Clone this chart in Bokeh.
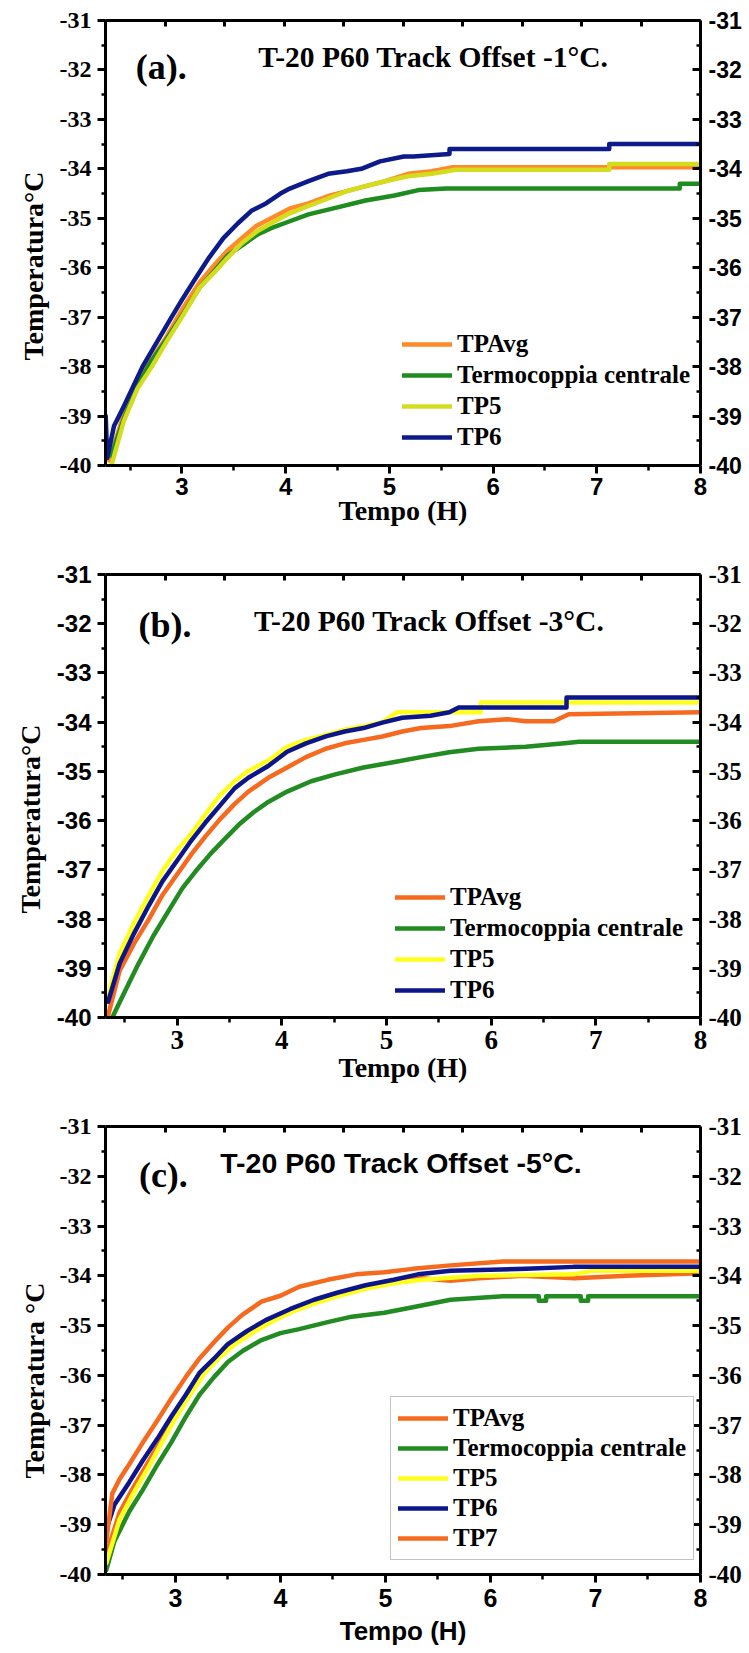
from bokeh.plotting import figure
from bokeh.models import (Range1d, LinearAxis, FixedTicker, Legend, LegendItem, Label, Title,
                          CustomLabelingPolicy)
from bokeh.layouts import column
from bokeh.embed import file_html
from bokeh.resources import INLINE

SERIF = "Liberation Serif"
SANS = "Liberation Sans"

# ---------------- ticks ----------------
Y_TICKS = [-40, -39, -38, -37, -36, -35, -34, -33, -32, -31]
Y_MINOR = [-39.5, -38.5, -37.5, -36.5, -35.5, -34.5, -33.5, -32.5, -31.5]
X_TICKS = [3, 4, 5, 6, 7, 8]
X_MINOR = [2.5, 3.5, 4.5, 5.5, 6.5, 7.5]
TOP_TICKS = [1, 2, 3, 4, 5, 6, 7, 8, 9]   # top axis: ten equal divisions

# ---------------- panel (a): offset -1 C ----------------
a_x_avg = [2.30, 2.44, 2.57, 2.71, 2.85, 3.0, 3.17, 3.31, 3.44, 3.58, 3.72, 3.86, 4.04, 4.22, 4.41, 4.59, 4.77, 4.96, 5.18, 5.41, 5.6, 8.0]
a_y_avg = [-39.9, -38.95, -38.3, -37.85, -37.4, -36.85, -36.3, -35.95, -35.65, -35.4, -35.15, -35.0, -34.8, -34.7, -34.55, -34.45, -34.35, -34.25, -34.1, -34.05, -33.97, -33.97]
a_x_cen = [2.32, 2.44, 2.57, 2.71, 2.85, 3.0, 3.17, 3.31, 3.44, 3.58, 3.72, 3.86, 4.04, 4.22, 4.5, 4.77, 5.05, 5.28, 5.55, 7.8, 7.8, 8.0]
a_y_cen = [-39.8, -39.05, -38.4, -37.87, -37.45, -36.97, -36.4, -36.07, -35.75, -35.55, -35.34, -35.2, -35.06, -34.92, -34.78, -34.64, -34.54, -34.43, -34.4, -34.4, -34.3, -34.3]
a_x_tp5 = [2.32, 2.44, 2.57, 2.71, 2.85, 3.0, 3.17, 3.31, 3.44, 3.58, 3.72, 3.86, 4.04, 4.22, 4.41, 4.59, 4.77, 4.96, 5.18, 5.41, 5.64, 7.12, 7.12, 8.0]
a_y_tp5 = [-40.0, -39.1, -38.45, -38.0, -37.5, -37.0, -36.4, -36.1, -35.8, -35.5, -35.27, -35.1, -34.9, -34.75, -34.6, -34.45, -34.35, -34.25, -34.15, -34.1, -34.02, -34.02, -33.9, -33.9]
a_x_tp6 = [2.265, 2.28, 2.345, 2.44, 2.53, 2.62, 2.76, 2.9, 3.0, 3.12, 3.26, 3.4, 3.54, 3.67, 3.81, 3.95, 4.04, 4.22, 4.41, 4.59, 4.73, 4.91, 5.14, 5.23, 5.58, 5.58, 7.12, 7.12, 8.0]
a_y_tp6 = [-39.0, -39.85, -39.2, -38.8, -38.4, -38.0, -37.5, -37.0, -36.65, -36.25, -35.8, -35.4, -35.1, -34.85, -34.7, -34.5, -34.4, -34.25, -34.1, -34.05, -34.0, -33.85, -33.75, -33.75, -33.7, -33.6, -33.6, -33.5, -33.5]

# ---------------- panel (b): offset -3 C ----------------
b_x_avg = [2.34, 2.45, 2.59, 2.73, 2.86, 3.0, 3.14, 3.27, 3.41, 3.55, 3.68, 3.87, 4.05, 4.23, 4.42, 4.6, 4.78, 4.96, 5.15, 5.33, 5.6, 5.88, 6.15, 6.33, 6.6, 6.74, 8.0]
b_y_avg = [-39.96, -39.05, -38.49, -38.0, -37.51, -37.09, -36.67, -36.32, -35.97, -35.66, -35.41, -35.13, -34.92, -34.71, -34.54, -34.43, -34.36, -34.29, -34.19, -34.12, -34.08, -33.98, -33.94, -33.98, -33.98, -33.84, -33.8]
b_x_cen = [2.38, 2.5, 2.63, 2.77, 2.91, 3.05, 3.18, 3.32, 3.46, 3.59, 3.73, 3.87, 4.05, 4.28, 4.51, 4.78, 5.05, 5.33, 5.6, 5.88, 6.33, 6.7, 6.84, 8.0]
b_y_cen = [-40.0, -39.47, -38.91, -38.35, -37.86, -37.37, -37.02, -36.67, -36.36, -36.08, -35.83, -35.62, -35.41, -35.2, -35.06, -34.92, -34.82, -34.71, -34.61, -34.54, -34.5, -34.43, -34.4, -34.4]
b_x_tp5 = [2.34, 2.45, 2.59, 2.73, 2.86, 3.0, 3.14, 3.27, 3.41, 3.55, 3.68, 3.87, 4.05, 4.23, 4.42, 4.6, 4.78, 4.96, 5.1, 5.9, 5.9, 8.0]
b_y_tp5 = [-39.54, -38.7, -38.07, -37.51, -37.02, -36.6, -36.25, -35.87, -35.48, -35.2, -34.99, -34.78, -34.5, -34.36, -34.26, -34.15, -34.08, -34.0, -33.8, -33.8, -33.6, -33.6]
b_x_tp6 = [2.34, 2.45, 2.59, 2.73, 2.86, 3.0, 3.14, 3.27, 3.41, 3.55, 3.68, 3.87, 4.05, 4.23, 4.42, 4.6, 4.78, 4.96, 5.15, 5.42, 5.6, 5.69, 6.72, 6.72, 8.0]
b_y_tp6 = [-39.68, -38.9, -38.28, -37.72, -37.23, -36.81, -36.39, -36.04, -35.69, -35.34, -35.13, -34.89, -34.6, -34.43, -34.29, -34.19, -34.12, -34.01, -33.91, -33.87, -33.8, -33.7, -33.7, -33.5, -33.5]

# ---------------- panel (c): offset -5 C ----------------
c_x_avg = [2.342, 2.47, 2.6, 2.74, 2.87, 3.01, 3.14, 3.28, 3.41, 3.55, 3.73, 3.91, 4.09, 4.32, 4.54, 4.81, 5.08, 5.35, 5.62, 5.89, 6.3, 6.8, 7.3, 8.0]
c_y_avg = [-39.6, -38.75, -38.25, -37.75, -37.28, -36.8, -36.35, -35.92, -35.62, -35.35, -35.1, -34.9, -34.7, -34.52, -34.38, -34.22, -34.1, -34.05, -34.1, -34.05, -34.0, -34.05, -34.0, -33.95]
c_x_cen = [2.342, 2.42, 2.56, 2.69, 2.83, 2.96, 3.1, 3.23, 3.37, 3.5, 3.64, 3.82, 4.0, 4.18, 4.45, 4.68, 4.99, 5.26, 5.62, 6.12, 6.46, 6.46, 6.53, 6.53, 6.86, 6.86, 6.93, 6.93, 8.0]
c_y_cen = [-39.91, -39.33, -38.74, -38.3, -37.79, -37.35, -36.83, -36.39, -36.03, -35.73, -35.51, -35.29, -35.15, -35.07, -34.93, -34.82, -34.74, -34.63, -34.48, -34.41, -34.41, -34.5, -34.5, -34.41, -34.41, -34.5, -34.5, -34.41, -34.41]
c_x_tp5 = [2.342, 2.47, 2.6, 2.74, 2.87, 3.01, 3.14, 3.28, 3.41, 3.55, 3.73, 3.91, 4.09, 4.32, 4.54, 4.81, 5.08, 5.35, 5.62, 5.89, 6.79, 6.97, 8.0]
c_y_tp5 = [-39.77, -38.89, -38.37, -37.86, -37.35, -36.83, -36.39, -35.95, -35.66, -35.4, -35.15, -34.93, -34.74, -34.56, -34.41, -34.26, -34.15, -34.08, -34.04, -34.0, -33.97, -33.9, -33.9]
c_x_tp6 = [2.342, 2.42, 2.56, 2.69, 2.83, 2.96, 3.1, 3.23, 3.37, 3.5, 3.68, 3.86, 4.09, 4.32, 4.54, 4.81, 5.08, 5.31, 5.62, 6.34, 6.79, 8.0]
c_y_tp6 = [-39.1, -38.6, -38.15, -37.71, -37.27, -36.83, -36.39, -35.95, -35.66, -35.37, -35.11, -34.89, -34.67, -34.48, -34.34, -34.19, -34.08, -33.97, -33.9, -33.86, -33.82, -33.82]
c_x_tp7 = [2.342, 2.40, 2.47, 2.56, 2.69, 2.83, 2.96, 3.1, 3.23, 3.37, 3.5, 3.64, 3.82, 4.0, 4.18, 4.45, 4.72, 4.99, 5.26, 5.62, 6.12, 8.0]
c_y_tp7 = [-39.33, -38.37, -38.08, -37.79, -37.35, -36.9, -36.47, -36.03, -35.66, -35.33, -35.04, -34.78, -34.52, -34.4, -34.22, -34.08, -33.97, -33.93, -33.86, -33.79, -33.71, -33.71]

LEGEND_NAMES = ["TPAvg", "Termocoppia centrale", "TP5", "TP6", "TP7"]
Y_LABELS = {t: str(t) for t in Y_TICKS}
X_LABELS = {t: str(t) for t in X_TICKS}


def build(cfg):
    p = figure(width=749, height=cfg["height"],
               x_range=Range1d(cfg["xmin"], 8), y_range=Range1d(-40, -31),
               output_backend="svg", toolbar_location=None,
               min_border_left=cfg["bl"], min_border_right=cfg["br"],
               min_border_top=cfg["bt"], min_border_bottom=cfg["bb"])
    p.xgrid.visible = False
    p.ygrid.visible = False
    p.outline_line_color = None
    p.extra_x_ranges = {"top": Range1d(0, 10)}

    def common(ax):
        ax.axis_line_width = 3
        ax.major_tick_line_width = 3
        ax.minor_tick_line_width = 2.5
        ax.axis_line_color = "black"
        ax.major_tick_line_color = "black"
        ax.minor_tick_line_color = "black"
        ax.major_label_text_color = "black"
        ax.major_label_text_font_style = "bold"

    # left axis
    la = p.yaxis[0]
    common(la)
    la.ticker = FixedTicker(ticks=Y_TICKS, minor_ticks=Y_MINOR)
    la.major_label_overrides = Y_LABELS
    la.major_tick_out = 8
    la.major_tick_in = 0
    la.minor_tick_out = 4
    la.minor_tick_in = 0
    la.major_label_text_font = cfg["lfont"]
    la.major_label_text_font_size = cfg["lsize"]
    la.major_label_standoff = 6

    # y-axis title, placed beside the left axis with its lower end at a given distance
    yoff, ystand, ytext = cfg["ylabel"]
    p.add_layout(Title(text=ytext, align="left", offset=yoff, standoff=ystand,
                       vertical_align="bottom", text_font=SERIF, text_font_size="28px",
                       text_font_style="bold", text_color="black"), "left")

    # bottom axis
    ba = p.xaxis[0]
    common(ba)
    ba.ticker = FixedTicker(ticks=X_TICKS, minor_ticks=X_MINOR)
    ba.major_label_overrides = X_LABELS
    ba.major_tick_out = 8
    ba.major_tick_in = 0
    ba.minor_tick_out = 5
    ba.minor_tick_in = 0
    ba.major_label_text_font = cfg["xfont"]
    ba.major_label_text_font_size = cfg["xsize"]
    ba.major_label_standoff = cfg["xstand"]
    ba.axis_label = "Tempo (H)"
    ba.axis_label_text_font = cfg["xlfont"]
    ba.axis_label_text_font_size = cfg["xlsize"]
    ba.axis_label_text_font_style = "bold"
    ba.axis_label_text_color = "black"
    ba.axis_label_standoff = cfg["xlstand"]

    # right axis
    ra = LinearAxis(ticker=FixedTicker(ticks=Y_TICKS, minor_ticks=Y_MINOR))
    common(ra)
    ra.major_label_overrides = Y_LABELS
    ra.major_tick_out = 0
    ra.major_tick_in = 8
    ra.minor_tick_out = 0
    ra.minor_tick_in = 4
    ra.major_label_text_font = cfg["rfont"]
    ra.major_label_text_font_size = cfg["rsize"]
    ra.major_label_standoff = 8
    p.add_layout(ra, "right")

    # top axis (ticks only, labels suppressed by policy)
    ta = LinearAxis(x_range_name="top", ticker=FixedTicker(ticks=TOP_TICKS, minor_ticks=[]))
    common(ta)
    ta.major_tick_out = 0
    ta.major_tick_in = 6
    ta.minor_tick_out = 0
    ta.minor_tick_in = 0
    ta.major_label_text_font_size = "8px"
    ta.major_label_standoff = 0
    ta.major_label_policy = CustomLabelingPolicy(code="""
        for (const i of indices)
            indices.unset(i)
    """)
    p.add_layout(ta, "above")

    # series
    items = []
    for name, xs, ys, color in cfg["series"]:
        r = p.line(xs, ys, line_color=color, line_width=4.5, line_join="round", line_cap="round")
        items.append((name, r))
    order = {n: i for i, n in enumerate(LEGEND_NAMES)}
    items.sort(key=lambda t: order[t[0]])
    leg = Legend(items=[LegendItem(label=n, renderers=[r]) for n, r in items],
                 location=cfg["legloc"], padding=cfg["legpad"], margin=0, spacing=cfg["legspace"],
                 glyph_width=50, glyph_height=26, label_height=26, label_standoff=5,
                 label_text_font=SERIF, label_text_font_size="25px", label_text_font_style="bold",
                 label_text_color="black",
                 border_line_color=cfg["legborder"], border_line_width=1.5,
                 background_fill_alpha=0.0 if cfg["legborder"] is None else 1.0)
    p.add_layout(leg, "center")

    # title and tag
    tx, ty, ttext, tfont, tsize = cfg["title"]
    p.add_layout(Label(x=tx, y=ty, text=ttext, text_font=tfont, text_font_size=tsize,
                       text_font_style="bold", text_align="center", text_baseline="middle",
                       text_color="black"))
    gx, gy, gtext = cfg["tag"]
    p.add_layout(Label(x=gx, y=gy, text=gtext, text_font=SERIF, text_font_size="36px",
                       text_font_style="bold", text_align="left", text_baseline="middle",
                       text_color="black"))
    return p


pa = build(dict(
    height=545, xmin=2.263, bl=102, br=49, bt=20, bb=80,
    lfont=SERIF, lsize="24px", rfont=SANS, rsize="23px", xfont=SANS, xsize="24px", xstand=4,
    xlfont=SERIF, xlsize="28px", xlstand=-3,
    ylabel=(105, 16, "Temperatura°C"),
    series=[("TPAvg", a_x_avg, a_y_avg, "#FF8A2A"),
            ("Termocoppia centrale", a_x_cen, a_y_cen, "#1E8C1E"),
            ("TP5", a_x_tp5, a_y_tp5, "#D4DC1E"),
            ("TP6", a_x_tp6, a_y_tp6, "#0C1A8A")],
    legloc=(297, 14), legpad=0, legspace=3, legborder=None,
    title=(5.46, -31.74, "T-20 P60 Track Offset  -1°C.", SERIF, "29.5px"),
    tag=(2.555, -31.95, "(a)."),
))

pb = build(dict(
    height=545, xmin=2.315, bl=105, br=49, bt=29, bb=73,
    lfont=SANS, lsize="24px", rfont=SERIF, rsize="25px", xfont=SERIF, xsize="27px", xstand=5,
    xlfont=SERIF, xlsize="28px", xlstand=0,
    ylabel=(104, 16, "Temperatura°C"),
    series=[("TPAvg", b_x_avg, b_y_avg, "#F56A1E"),
            ("Termocoppia centrale", b_x_cen, b_y_cen, "#228B22"),
            ("TP5", b_x_tp5, b_y_tp5, "#FFFF1E"),
            ("TP6", b_x_tp6, b_y_tp6, "#0C168A")],
    legloc=(290, 13), legpad=0, legspace=3, legborder=None,
    title=(5.443, -31.95, "T-20 P60 Track Offset  -3°C.", SERIF, "29.5px"),
    tag=(2.63, -32.03, "(b)."),
))

pc = build(dict(
    height=563, xmin=2.335, bl=101, br=48, bt=36, bb=79,
    lfont=SERIF, lsize="24px", rfont=SERIF, rsize="25px", xfont=SANS, xsize="25px", xstand=6,
    xlfont=SANS, xlsize="26px", xlstand=6,
    ylabel=(96, 13, "Temperatura °C"),
    series=[("TPAvg", c_x_avg, c_y_avg, "#F56A1E"),
            ("Termocoppia centrale", c_x_cen, c_y_cen, "#228B22"),
            ("TP5", c_x_tp5, c_y_tp5, "#FFFF1E"),
            ("TP6", c_x_tp6, c_y_tp6, "#0C168A"),
            ("TP7", c_x_tp7, c_y_tp7, "#F56A1E")],
    legloc=(285, 14), legpad=7, legspace=2, legborder="#888888",
    title=(5.148, -31.73, "T-20 P60 Track Offset -5°C.", SANS, "28.5px"),
    tag=(2.653, -31.97, "(c)."),
))

layout = column(pa, pb, pc, spacing=0)
open("out.html", "w").write(file_html(layout, INLINE))
